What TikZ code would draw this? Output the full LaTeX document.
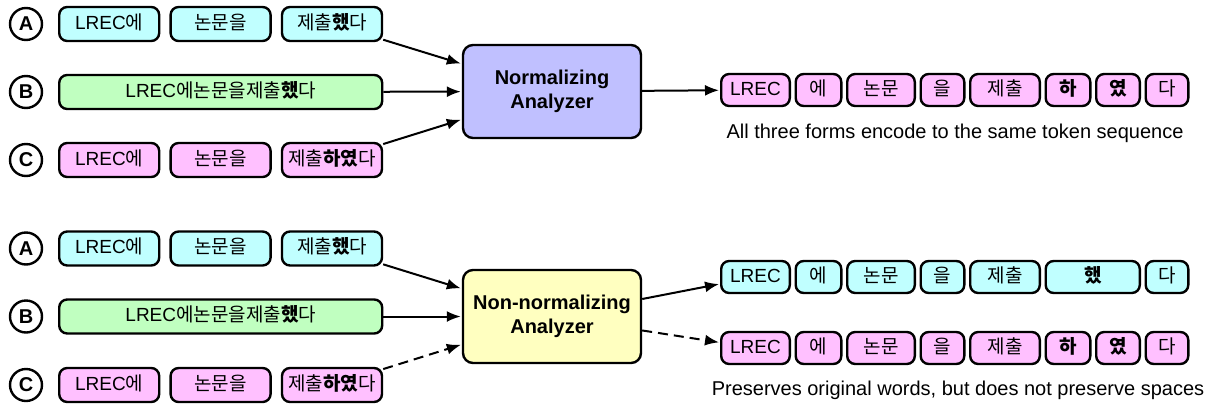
\documentclass[tikz,border=0pt]{standalone}
\usepackage{fontspec}
\setmainfont{Liberation Sans}
\newfontfamily\kr{Noto Sans CJK KR}
\usepackage{tikz}
\usetikzlibrary{arrows.meta,positioning}
\definecolor{ccyan}{HTML}{C0FFFF}
\definecolor{cgreen}{HTML}{C0FFC0}
\definecolor{cpink}{HTML}{FFC0FF}
\definecolor{cviolet}{HTML}{C0C0FF}
\definecolor{cyell}{HTML}{FFFFC0}

\begin{document}
\begin{tikzpicture}[x=1pt, y=-1pt,
    bx/.style={draw, line width=2.4pt, rounded corners=8pt, minimum height=34pt, inner sep=0pt,
      text height=14pt, text depth=4pt, font=\fontsize{19}{22}\selectfont},
    w/.style={bx, minimum width=100pt},
    tk/.style={bx, minimum height=32pt, minimum width={#1-2.4pt}},
    lt/.style={circle, draw, line width=2.4pt, minimum size=32pt, inner sep=0pt,
      font=\bfseries\fontsize{20}{24}\selectfont},
    an/.style={draw, line width=2.4pt, rounded corners=10pt, minimum width=178pt,
      minimum height=93pt, align=center, font=\bfseries\fontsize{20}{24}\selectfont},
    captxt/.style={font=\fontsize{20}{24}\selectfont},
    pt/.style={-{Latex[length=14pt,width=11pt]}, line width=2pt, shorten >=1pt},
    dpt/.style={pt, dash pattern=on 10pt off 6pt}]
  \useasboundingbox (0,0) rectangle (1215,410);

  % normalizing analyzer
  \node[lt] (lA) at (26,24) {A};
  \node[w, fill=ccyan, anchor=west] (a1) at (58,24) {LREC{\kr 에}};
  \node[w, fill=ccyan, right=9pt of a1] (a2) {{\kr 논문을}};
  \node[w, fill=ccyan, right=9pt of a2] (a3) {{\kr 제출\textbf{했}다}};
  \node[lt] (lB) at (26,92) {B};
  \node[bx, fill=cgreen, minimum width=323pt, anchor=west] (b) at (58,92) {LREC{\kr 에논문을제출\textbf{했}다}};
  \node[lt] (lC) at (26,160) {C};
  \node[w, fill=cpink, anchor=west] (c1) at (58,160) {LREC{\kr 에}};
  \node[w, fill=cpink, right=9pt of c1] (c2) {{\kr 논문을}};
  \node[w, fill=cpink, right=9pt of c2] (c3) {{\kr 제출\textbf{하였}다}};

  \node[an, fill=cviolet] (nz) at (552,91.5) {Normalizing\\Analyzer};

  \node[tk=71pt, fill=cpink, anchor=west] (t1) at (720,90) {LREC};
  \node[tk=48pt, fill=cpink, right=3.5pt of t1] (t2) {{\kr 에}};
  \node[tk=70pt, fill=cpink, right=3.5pt of t2] (t3) {{\kr 논문}};
  \node[tk=46pt, fill=cpink, right=3.5pt of t3] (t4) {{\kr 을}};
  \node[tk=72pt, fill=cpink, right=3.5pt of t4] (t5) {{\kr 제출}};
  \node[tk=47pt, fill=cpink, right=3.5pt of t5] (t6) {{\kr\bfseries 하}};
  \node[tk=46pt, fill=cpink, right=3.5pt of t6] (t7) {{\kr\bfseries 였}};
  \node[tk=45pt, fill=cpink, right=3.5pt of t7] (t8) {{\kr 다}};
  \node[captxt] (capT) at (955,133) {All three forms encode to the same token sequence};

  \draw[pt] (a3) -- (nz);
  \draw[pt] (b) -- (nz);
  \draw[pt] (c3) -- (nz);
  \draw[pt] (nz) -- (t1);

  % non-normalizing analyzer
  \node[lt] (lAx) at (26,248.5) {A};
  \node[w, fill=ccyan, anchor=west] (ax1) at (58,248.5) {LREC{\kr 에}};
  \node[w, fill=ccyan, right=9pt of ax1] (ax2) {{\kr 논문을}};
  \node[w, fill=ccyan, right=9pt of ax2] (ax3) {{\kr 제출\textbf{했}다}};
  \node[lt] (lBx) at (26,316.5) {B};
  \node[bx, fill=cgreen, minimum width=323pt, anchor=west] (bx) at (58,316.5) {LREC{\kr 에논문을제출\textbf{했}다}};
  \node[lt] (lCx) at (26,385) {C};
  \node[w, fill=cpink, anchor=west] (cx1) at (58,385) {LREC{\kr 에}};
  \node[w, fill=cpink, right=9pt of cx1] (cx2) {{\kr 논문을}};
  \node[w, fill=cpink, right=9pt of cx2] (cx3) {{\kr 제출\textbf{하였}다}};

  \node[an, fill=cyell] (nn) at (552,316.5) {Non-normalizing\\Analyzer};

  \node[tk=71pt, fill=ccyan, anchor=west] (u1) at (720,277) {LREC};
  \node[tk=48pt, fill=ccyan, right=3.5pt of u1] (u2) {{\kr 에}};
  \node[tk=70pt, fill=ccyan, right=3.5pt of u2] (u3) {{\kr 논문}};
  \node[tk=46pt, fill=ccyan, right=3.5pt of u3] (u4) {{\kr 을}};
  \node[tk=72pt, fill=ccyan, right=3.5pt of u4] (u5) {{\kr 제출}};
  \node[tk=96.5pt, fill=ccyan, right=3.5pt of u5] (u6) {{\kr\bfseries 했}};
  \node[tk=45pt, fill=ccyan, right=3.5pt of u6] (u7) {{\kr 다}};

  \node[tk=71pt, fill=cpink, anchor=west] (v1) at (720,348) {LREC};
  \node[tk=48pt, fill=cpink, right=3.5pt of v1] (v2) {{\kr 에}};
  \node[tk=70pt, fill=cpink, right=3.5pt of v2] (v3) {{\kr 논문}};
  \node[tk=46pt, fill=cpink, right=3.5pt of v3] (v4) {{\kr 을}};
  \node[tk=72pt, fill=cpink, right=3.5pt of v4] (v5) {{\kr 제출}};
  \node[tk=47pt, fill=cpink, right=3.5pt of v5] (v6) {{\kr\bfseries 하}};
  \node[tk=46pt, fill=cpink, right=3.5pt of v6] (v7) {{\kr\bfseries 였}};
  \node[tk=45pt, fill=cpink, right=3.5pt of v7] (v8) {{\kr 다}};
  \node[captxt] (capB) at (958,390) {Preserves original words, but does not preserve spaces};

  \draw[pt] (ax3) -- (nn);
  \draw[pt] (bx) -- (nn);
  \draw[dpt] (cx3) -- (nn);
  \draw[pt] (nn) -- (u1);
  \draw[dpt] (nn) -- (v1);
\end{tikzpicture}
\end{document}
